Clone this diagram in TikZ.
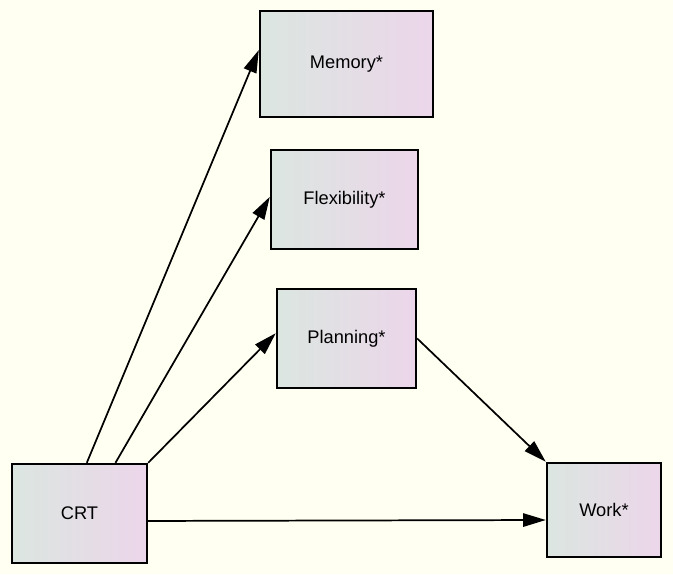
\documentclass[tikz,border=0pt]{standalone}
\usepackage{fontspec}
\setmainfont{Liberation Sans}
\usetikzlibrary{arrows.meta}

\definecolor{cream}{RGB}{255,255,242}
\definecolor{boxleft}{RGB}{219,230,224}
\definecolor{boxright}{RGB}{236,214,234}

\begin{document}
\begin{tikzpicture}[x=0.75pt,y=0.75pt,yscale=-1,xscale=1,
  var/.style={draw=black,line width=1.8pt,left color=boxleft,right color=boxright,
    minimum height=99*0.75pt,inner sep=0pt,
    font=\fontsize{13.7}{16}\selectfont},
  path/.style={line width=1.3pt,-{Triangle[length=17pt,width=10pt]}}]
%set diagram size 673x574
\fill [cream] (0,0) rectangle (673,574);

%Shape: Rectangle
\node [var,minimum width=135*0.75pt] (crt) at (79.5,513.5) {CRT};
%Shape: Rectangle
\node [var,minimum width=173*0.75pt,minimum height=106*0.75pt] (memory) at (346.5,64) {Memory*};
%Shape: Rectangle
\node [var,minimum width=147*0.75pt] (flexibility) at (344.5,199.5) {Flexibility*};
%Shape: Rectangle
\node [var,minimum width=139*0.75pt] (planning) at (346.5,338.5) {Planning*};
%Shape: Rectangle
\node [var,minimum width=114*0.75pt,minimum height=94*0.75pt] (work) at (604,510) {Work*};

%Straight Lines
\draw [path] ([xshift=57pt]crt.north west) -- ([yshift=-10.5pt]memory.west);
%Straight Lines
\draw [path] ([xshift=78.5pt]crt.north west) -- ([yshift=-2pt]flexibility.west);
%Straight Lines
\draw [path] (crt.north east) -- ([yshift=-4pt]planning.west);
%Straight Lines
\draw [path] ([yshift=5.6pt]crt.east) -- ([yshift=7.5pt]work.west);
%Straight Lines
\draw [path] (planning.east) -- (work.north west);

\end{tikzpicture}
\end{document}
